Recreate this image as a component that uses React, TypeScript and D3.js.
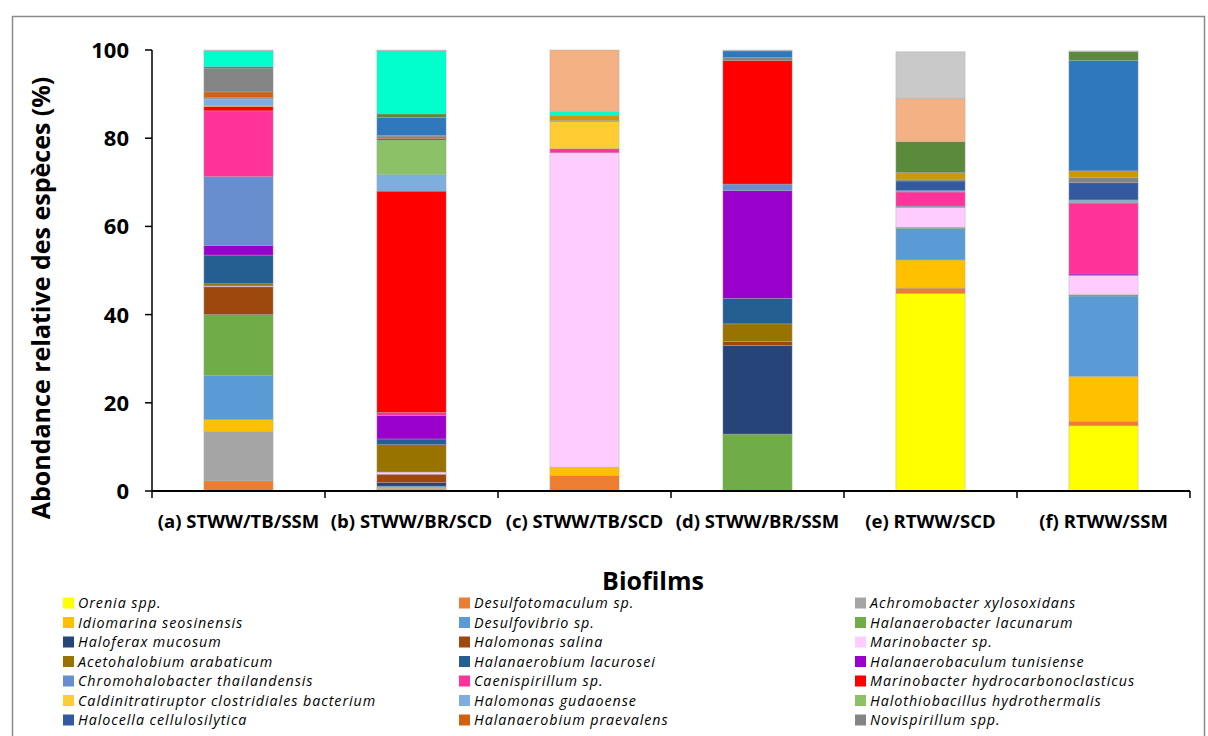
import React from "react";
import * as d3 from "d3";

const categories = [
  "(a) STWW/TB/SSM",
  "(b) STWW/BR/SCD",
  "(c) STWW/TB/SCD",
  "(d) STWW/BR/SSM",
  "(e) RTWW/SCD",
  "(f) RTWW/SSM",
];

const speciesNames = [
  "Orenia spp.",
  "Desulfotomaculum sp.",
  "Achromobacter xylosoxidans",
  "Idiomarina seosinensis",
  "Desulfovibrio sp.",
  "Halanaerobacter lacunarum",
  "Haloferax mucosum",
  "Halomonas salina",
  "Marinobacter sp.",
  "Acetohalobium arabaticum",
  "Halanaerobium lacurosei",
  "Halanaerobaculum tunisiense",
  "Chromohalobacter thailandensis",
  "Caenispirillum sp.",
  "Marinobacter hydrocarbonoclasticus",
  "Caldinitratiruptor clostridiales bacterium",
  "Halomonas gudaoense",
  "Halothiobacillus hydrothermalis",
  "Halocella cellulosilytica",
  "Halanaerobium praevalens",
  "Novispirillum spp.",
  // series below are present in the bars but their legend rows lie outside the visible frame
  "s22",
  "s23",
  "s24",
  "s25",
  "s26",
  "s27",
];

const speciesColors = [
  "#FFFF00", "#ED7D31", "#A5A5A5", "#FFC000", "#5B9BD5", "#70AD47",
  "#264478", "#9E480E", "#FFCCFF", "#997300", "#255E91", "#9900CC",
  "#698ED0", "#FF3399", "#FF0000", "#FFCD33", "#7CAFDD", "#8CC168",
  "#335AA1", "#D26012", "#848484",
  "#CC9900", "#2F78BD", "#5A8A3A", "#00FFCC", "#F4B183", "#C9C9C9",
];

// values per species for categories a..f (%)
const speciesValues = [
  [0, 0, 0, 0, 44.8, 14.8],
  [2.3, 0.4, 3.5, 0, 1.2, 1.0],
  [11.2, 0.2, 0, 0, 0, 0],
  [2.7, 0.2, 1.9, 0, 6.4, 10.2],
  [10.0, 0.3, 0, 0, 7.1, 18.2],
  [13.8, 0, 0, 12.9, 0.3, 0.3],
  [0, 0.8, 0, 20.1, 0, 0],
  [6.3, 1.9, 0, 0.9, 0, 0],
  [0.2, 0.5, 71.3, 0, 4.5, 4.4],
  [0.5, 6.2, 0, 4.0, 0, 0],
  [6.5, 1.3, 0, 5.8, 0, 0],
  [2.2, 5.3, 0, 24.4, 0, 0.3],
  [15.6, 0, 0, 1.5, 0.3, 0],
  [14.9, 0.7, 0.9, 0, 3.2, 16.0],
  [1.0, 50.2, 0, 28.0, 0, 0.2],
  [0.2, 0, 6.2, 0, 0, 0],
  [1.4, 3.8, 0, 0, 0.3, 0.6],
  [0.2, 7.8, 0, 0, 0, 0],
  [0.2, 0.3, 0, 0, 2.2, 3.9],
  [1.3, 0.4, 0, 0, 0, 0],
  [5.4, 0.3, 0.2, 0.7, 0.4, 1.2],
  [0, 0, 1.2, 0, 1.3, 1.5],
  [0.3, 4.1, 0, 1.5, 0.2, 25.0],
  [0, 0.8, 0, 0, 7.0, 2.0],
  [3.6, 14.3, 0.8, 0, 0, 0],
  [0, 0, 14.0, 0, 9.8, 0],
  [0.2, 0.2, 0, 0.2, 10.6, 0.2],
];

const yTicks = [0, 20, 40, 60, 80, 100];
const legendCount = 21;

const W = 1208;
const H = 736;
const FONT = "'Open Sans', 'Noto Sans', sans-serif";

export default function App() {
  const x = d3.scaleBand<string>().domain(categories).range([152, 1190]).paddingInner(0.6).paddingOuter(0.3);
  const band = d3.scaleBand<string>().domain(categories).range([152, 1190]);
  const y = d3.scaleLinear().domain([0, 100]).range([491, 50]);

  const rows = categories.map((c, ci) => {
    const r: Record<string, any> = { cat: c };
    speciesNames.forEach((s, si) => (r[s] = speciesValues[si][ci]));
    return r;
  });
  const stacked = d3.stack<any>().keys(speciesNames)(rows);

  const boundaries = [...categories.map((c) => band(c)!), 1190];

  const legendCols = [63, 459, 855];

  return (
    <div style={{ position: "absolute", left: 0, top: 0 }}>
      <svg width={W} height={H} style={{ display: "block", background: "#fff" }}>
        <rect x={12.5} y={16.5} width={1192} height={800} fill="#fff" stroke="#8a8a8a" strokeWidth={1.5} />

        {stacked.map((layer, si) => (
          <g key={si} fill={speciesColors[si]}>
            {layer.map((d, ci) => {
              const h = y(d[0]) - y(d[1]);
              if (h <= 0) return null;
              return (
                <rect
                  key={ci}
                  x={x(categories[ci])}
                  y={y(d[1])}
                  width={x.bandwidth()}
                  height={h}
                  stroke="rgba(170,170,170,0.55)"
                  strokeWidth={0.7}
                />
              );
            })}
          </g>
        ))}

        {/* y axis */}
        <line x1={152} x2={152} y1={y(100)} y2={y(0)} stroke="#000" strokeWidth={1.5} />
        {yTicks.map((t) => (
          <g key={t}>
            <line x1={145} x2={152} y1={y(t)} y2={y(t)} stroke="#000" strokeWidth={1.5} />
            <text x={129} y={y(t)} dy="0.36em" textAnchor="end" fontFamily={FONT} fontWeight={700} fontSize={22} fill="#000">
              {t}
            </text>
          </g>
        ))}
        <text
          transform={`translate(50,298) rotate(-90)`}
          textAnchor="middle"
          fontFamily={FONT}
          fontWeight={700}
          fontSize={25}
          fill="#000"
        >
          Abondance relative des espèces (%)
        </text>

        {/* x axis */}
        <line x1={152} x2={1190} y1={491} y2={491} stroke="#000" strokeWidth={2} />
        {boundaries.map((b, i) => (
          <line key={i} x1={b} x2={b} y1={491} y2={498} stroke="#000" strokeWidth={1.5} />
        ))}
        {categories.map((c) => (
          <text
            key={c}
            x={band(c)! + band.bandwidth() / 2}
            y={528}
            textAnchor="middle"
            fontFamily={FONT}
            fontWeight={700}
            fontSize={18.5}
            fill="#000"
          >
            {c}
          </text>
        ))}

        <text x={653} y={590} textAnchor="middle" fontFamily={FONT} fontWeight={700} fontSize={25} fill="#000">
          Biofilms
        </text>

        {/* legend */}
        {speciesNames.slice(0, legendCount).map((s, i) => {
          const col = i % 3;
          const row = Math.floor(i / 3);
          const cy = 603 + row * 19.5;
          return (
            <g key={s}>
              <rect x={legendCols[col]} y={cy - 5.5} width={11} height={11} fill={speciesColors[i]} />
              <text
                x={legendCols[col] + 15}
                y={cy}
                dy="0.35em"
                fontFamily={FONT}
                fontStyle="italic"
                fontSize={14.3}
                letterSpacing={0.95}
                fill="#000"
              >
                {s}
              </text>
            </g>
          );
        })}
      </svg>
    </div>
  );
}
